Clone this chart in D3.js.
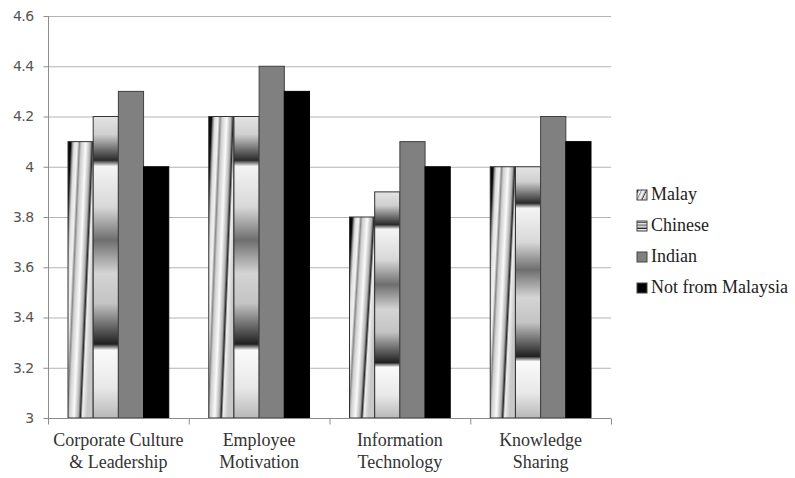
<!DOCTYPE html>
<html>
<head>
<meta charset="utf-8">
<script src="https://cdn.jsdelivr.net/npm/d3@7"></script>
<style>
  body { margin: 0; background: #fff; }
  svg { display: block; }
  .serif { font-family: 'Liberation Serif', 'Times New Roman', 'DejaVu Serif', Times, serif; }
</style>
</head>
<body>
<div id="chart"></div>
<script>
// Chart data
const categories = ['Corporate Culture|& Leadership', 'Employee|Motivation', 'Information|Technology', 'Knowledge|Sharing'];
const seriesNames = ['Malay', 'Chinese', 'Indian', 'Not from Malaysia'];
const malay = [4.1, 4.2, 3.8, 4.0];
const chinese = [4.2, 4.2, 3.9, 4.0];
const indian = [4.3, 4.4, 4.1, 4.2];
const notFromMalaysia = [4.0, 4.3, 4.0, 4.1];
const yTicks = [3, 3.2, 3.4, 3.6, 3.8, 4, 4.2, 4.4, 4.6];

const seriesValues = [malay, chinese, indian, notFromMalaysia];
const width = 795, height = 478;
const margin = {top: 16, right: 184, bottom: 60, left: 48};
const innerW = width - margin.left - margin.right;
const innerH = height - margin.top - margin.bottom;

const svg = d3.select('#chart').append('svg')
    .attr('width', width)
    .attr('height', height);

// Gradients that imitate the textured fills
const defs = svg.append('defs');

const malayGrad = defs.append('linearGradient')
    .attr('id', 'malayFill')
    .attr('x1', 0).attr('y1', 0).attr('x2', 1).attr('y2', 0.48);
[[0, '#000'], [0.09, '#0a0a0a'], [0.15, '#9a9a9a'], [0.2, '#e0e0e0'], [0.3, '#f2f2f2'], [0.37, '#8a8a8a'],
 [0.43, '#cfcfcf'], [0.58, '#fafafa'], [0.72, '#b0b0b0'], [0.79, '#2a2a2a'],
 [0.85, '#eeeeee'], [1, '#c8c8c8']].forEach(s => {
    malayGrad.append('stop').attr('offset', s[0]).attr('stop-color', s[1]);
});

const chineseGrad = defs.append('linearGradient')
    .attr('id', 'chineseFill')
    .attr('x1', 0).attr('y1', 0).attr('x2', 0).attr('y2', 1);
[[0, '#e4e4e4'], [0.06, '#cfcfcf'], [0.145, '#2a2a2a'], [0.165, '#f4f4f4'], [0.3, '#d8d8d8'],
 [0.41, '#6e6e6e'], [0.52, '#d4d4d4'], [0.62, '#c4c4c4'], [0.755, '#202020'],
 [0.775, '#fafafa'], [0.9, '#e8e8e8'], [1, '#b8b8b8']].forEach(s => {
    chineseGrad.append('stop').attr('offset', s[0]).attr('stop-color', s[1]);
});

const fills = ['url(#malayFill)', 'url(#chineseFill)', '#808080', '#000'];
const strokes = ['#333', '#333', '#404040', '#000'];

const g = svg.append('g')
    .attr('transform', `translate(${margin.left},${margin.top})`);

// Scales
const x0 = d3.scaleBand()
    .domain(categories)
    .range([0, innerW]);

const x1 = d3.scaleBand()
    .domain(seriesNames)
    .range([20, x0.bandwidth() - 20]);

const y = d3.scaleLinear()
    .domain([3, 4.6])
    .range([innerH, 0]);

// Gridlines
g.append('g')
    .selectAll('line')
    .data(yTicks.slice(1))
    .enter()
    .append('line')
        .attr('x1', 0)
        .attr('x2', innerW)
        .attr('y1', d => y(d) + 0.5)
        .attr('y2', d => y(d) + 0.5)
        .attr('stroke', '#b4b4b4')
        .attr('stroke-width', 1);

// Bars
const groups = g.selectAll('.group')
    .data(categories)
    .enter()
    .append('g')
        .attr('class', 'group')
        .attr('transform', d => `translate(${x0(d)},0)`);

groups.selectAll('rect')
    .data((d, i) => seriesNames.map((s, j) => ({series: s, j, value: seriesValues[j][i]})))
    .enter()
    .append('rect')
        .attr('x', d => x1(d.series))
        .attr('y', d => y(d.value))
        .attr('width', x1.bandwidth())
        .attr('height', d => innerH - y(d.value))
        .attr('fill', d => fills[d.j])
        .attr('stroke', d => strokes[d.j])
        .attr('stroke-width', 1);

// Y axis
const yAxis = d3.axisLeft(y)
    .tickValues(yTicks)
    .tickFormat(d => d3.format('')(d))
    .tickSize(5)
    .tickPadding(10);

g.append('g')
    .attr('transform', 'translate(0.5,0)')
    .call(yAxis)
    .call(ax => {
        ax.select('.domain').attr('stroke', '#8c8c8c').attr('d', `M0,0V${innerH}`);
        ax.selectAll('.tick line').attr('stroke', '#8c8c8c');
        ax.selectAll('text')
            .style('font-family', '"DejaVu Sans", sans-serif')
            .style('font-size', '14px')
            .style('letter-spacing', '-0.6px')
            .attr('fill', '#555');
    });

// X axis
const xAxis = d3.axisBottom(x0)
    .tickSize(0)
    .tickFormat('');

const xAxisGroup = g.append('g')
    .attr('transform', `translate(0,${innerH + 0.5})`)
    .call(xAxis);
xAxisGroup.select('.domain').attr('stroke', '#8c8c8c').attr('d', `M0,0H${innerW}`);

// Tick marks at the band boundaries
xAxisGroup.selectAll('.bound')
    .data(d3.range(categories.length + 1))
    .enter()
    .append('line')
        .attr('x1', i => i * x0.step() + 0.5)
        .attr('x2', i => i * x0.step() + 0.5)
        .attr('y1', 0)
        .attr('y2', 6)
        .attr('stroke', '#8c8c8c');

// Category labels (two lines each)
const labels = g.append('g')
    .attr('class', 'serif')
    .attr('font-size', 18)
    .selectAll('text')
    .data(categories)
    .enter()
    .append('text')
        .attr('x', d => x0(d) + x0.bandwidth() / 2)
        .attr('y', innerH + 28)
        .attr('text-anchor', 'middle')
        .attr('fill', '#333');

labels.selectAll('tspan')
    .data(d => d.split('|'))
    .enter()
    .append('tspan')
        .attr('x', function() { return this.parentNode.getAttribute('x'); })
        .attr('dy', (d, i) => i === 0 ? 0 : 22)
        .text(d => d);

// Legend
const legend = svg.append('g')
    .attr('transform', 'translate(637,190)');

const legendItems = legend.selectAll('g')
    .data(seriesNames)
    .enter()
    .append('g')
        .attr('transform', (d, i) => `translate(0,${i * 31})`);

legendItems.append('rect')
    .attr('x', 0)
    .attr('y', 0)
    .attr('width', 10)
    .attr('height', 10)
    .attr('fill', (d, i) => fills[i])
    .attr('stroke', '#444');

legendItems.append('text')
    .attr('class', 'serif')
    .attr('x', 14)
    .attr('y', 10)
    .attr('font-size', 18)
    .attr('fill', '#222')
    .text(d => d);
</script>
</body>
</html>
